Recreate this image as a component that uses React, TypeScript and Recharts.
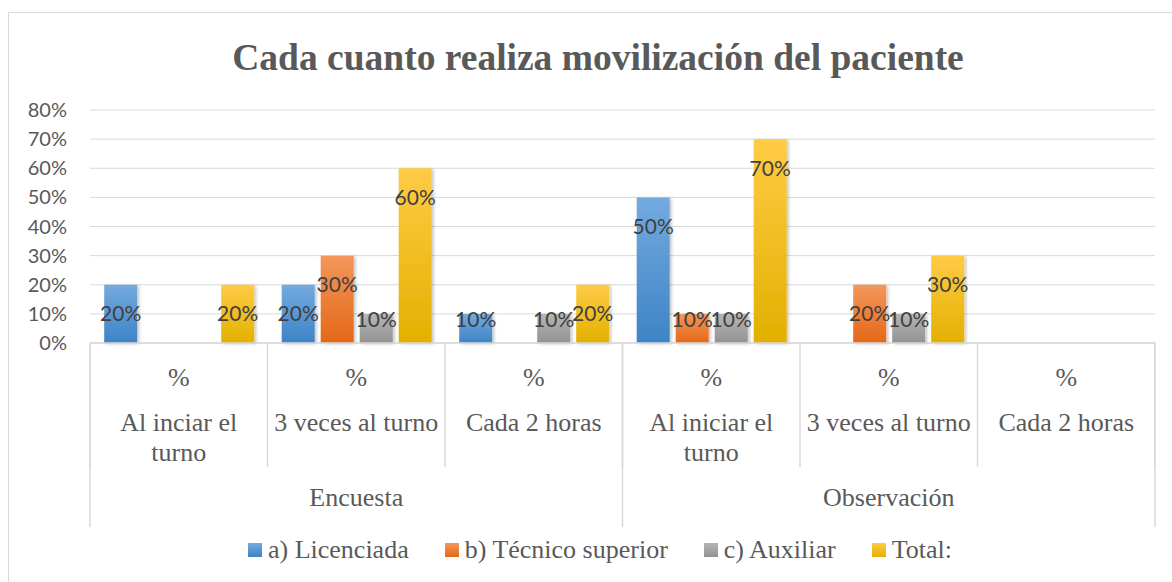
import { BarChart, Bar, XAxis, YAxis, CartesianGrid, Legend, LabelList } from "recharts";

// ── Data ────────────────────────────────────────────────────────────

const groups = ["Encuesta", "Encuesta", "Encuesta", "Observación", "Observación", "Observación"];
const unitRow = ["%", "%", "%", "%", "%", "%"];
const frequencies = [
  "Al inciar el turno",
  "3 veces al turno",
  "Cada 2 horas",
  "Al iniciar el turno",
  "3 veces al turno",
  "Cada 2 horas",
];
const licenciada = [0.2, 0.2, 0.1, 0.5, null, null];
const tecnico = [null, 0.3, null, 0.1, 0.2, null];
const auxiliar = [null, 0.1, 0.1, 0.1, 0.1, null];
const total = [0.2, 0.6, 0.2, 0.7, 0.3, null];
const yTicks = [0, 0.1, 0.2, 0.3, 0.4, 0.5, 0.6, 0.7, 0.8];

const rows = frequencies.map((f, i) => ({
  id: `c${i}`,
  group: groups[i],
  freq: f,
  licenciada: licenciada[i],
  tecnico: tecnico[i],
  auxiliar: auxiliar[i],
  total: total[i],
}));

// ── Styles ──────────────────────────────────────────────────────────

const SERIES = [
  { key: "licenciada", name: "a) Licenciada", top: "#74aadf", bottom: "#3d84c6" },
  { key: "tecnico", name: "b) Técnico superior", top: "#f4965c", bottom: "#e46816" },
  { key: "auxiliar", name: "c) Auxiliar", top: "#b5b5b5", bottom: "#929292" },
  { key: "total", name: "Total:", top: "#ffcb45", bottom: "#e3b000" },
];

const GRID = "#d9d9d9";
const TEXT = "#595959";
const SERIF = "Liberation Serif";
const SANS = "Lato";

const SUB_AXIS_H = 124;
const GROUP_AXIS_H = 60;

function wrap(label: string, max = 16) {
  const lines: string[] = [];
  let cur = "";
  label.split(" ").forEach((w) => {
    const next = cur ? `${cur} ${w}` : w;
    if (next.length > max && cur) {
      lines.push(cur);
      cur = w;
    } else cur = next;
  });
  if (cur) lines.push(cur);
  return lines;
}

function FrequencyTick(props: any) {
  const { x, y, payload, index } = props;
  const half = payload?.offset ?? 88;
  const lines = wrap(frequencies[index]);
  return (
    <g>
      <line x1={x - half} x2={x - half} y1={y} y2={y + SUB_AXIS_H} stroke={GRID} strokeWidth={1.5} />
      {index === frequencies.length - 1 && (
        <line x1={x + half} x2={x + half} y1={y} y2={y + SUB_AXIS_H} stroke={GRID} strokeWidth={1.5} />
      )}
      <text x={x} y={y + 34} textAnchor="middle" dominantBaseline="central" fill={TEXT} fontFamily={SERIF} fontSize={26}>
        {unitRow[index]}
      </text>
      {lines.map((l, k) => (
        <text
          key={k}
          x={x}
          y={y + 79 + k * 30}
          textAnchor="middle"
          dominantBaseline="central"
          fill={TEXT}
          fontFamily={SERIF}
          fontSize={26}
        >
          {l}
        </text>
      ))}
    </g>
  );
}

function GroupTick(props: any) {
  const { x, y, payload, index, visibleTicksCount } = props;
  const half = payload?.offset ?? 266;
  const isLast = index === (visibleTicksCount ?? 2) - 1;
  return (
    <g>
      <line x1={x - half} x2={x - half} y1={y - SUB_AXIS_H} y2={y + GROUP_AXIS_H} stroke={GRID} strokeWidth={1.5} />
      {isLast && (
        <line x1={x + half} x2={x + half} y1={y - SUB_AXIS_H} y2={y + GROUP_AXIS_H} stroke={GRID} strokeWidth={1.5} />
      )}
      <text x={x} y={y + 30} textAnchor="middle" dominantBaseline="central" fill={TEXT} fontFamily={SERIF} fontSize={26}>
        {payload.value}
      </text>
    </g>
  );
}

function BarLabel(props: any) {
  const { x, y, width, height, value } = props;
  if (value == null || value === 0) return null;
  // Excel puts the label a little below the bar top, but keeps it above the base on short bars
  const cy = Math.min(y + 28, y + height - 25);
  return (
    <text
      x={x + width / 2}
      y={cy}
      textAnchor="middle"
      dominantBaseline="central"
      fill="#404040"
      fontFamily={SANS}
      fontSize={21}
    >
      {`${Math.round(value * 100)}%`}
    </text>
  );
}

function LegendContent() {
  return (
    <div
      style={{
        display: "flex",
        justifyContent: "center",
        alignItems: "center",
        height: 30,
        gap: 36,
        fontFamily: SERIF,
        fontSize: 26,
        color: TEXT,
        whiteSpace: "nowrap",
      }}
    >
      {SERIES.map((s) => (
        <span key={s.key} style={{ display: "flex", alignItems: "center" }}>
          <span
            style={{
              display: "inline-block",
              width: 14,
              height: 14,
              marginRight: 6,
              background: `linear-gradient(${s.top}, ${s.bottom})`,
            }}
          />
          {s.name}
        </span>
      ))}
    </div>
  );
}

export default function App() {
  return (
    <div style={{ position: "absolute", left: 0, top: 0, width: 1172, height: 582, overflow: "hidden", background: "#fff" }}>
      {/* chart frame, only top and left edges fall inside the picture */}
      <div
        style={{
          position: "absolute",
          left: 8,
          top: 12,
          width: 1200,
          height: 620,
          border: `1.5px solid ${GRID}`,
        }}
      />
      <div
        style={{
          position: "absolute",
          left: 0,
          top: 34,
          width: 1196,
          textAlign: "center",
          fontFamily: SERIF,
          fontWeight: "bold",
          fontSize: 37.5,
          lineHeight: "48px",
          color: TEXT,
        }}
      >
        Cada cuanto realiza movilización del paciente
      </div>
      <div style={{ position: "absolute", left: 0, top: 0 }}>
        <BarChart
          width={1172}
          height={582}
          data={rows}
          margin={{ top: 110, right: 17, left: 0, bottom: 25 }}
          barCategoryGap="8%"
          barGap={6}
        >
          <defs>
            {SERIES.map((s) => (
              <linearGradient key={s.key} id={`grad-${s.key}`} x1="0" y1="0" x2="0" y2="1">
                <stop offset="0%" stopColor={s.top} />
                <stop offset="100%" stopColor={s.bottom} />
              </linearGradient>
            ))}
            <filter id="barShadow" x="-20%" y="-10%" width="150%" height="130%">
              <feDropShadow dx="2" dy="1" stdDeviation="1.5" floodColor="#000" floodOpacity="0.22" />
            </filter>
          </defs>
          <CartesianGrid vertical={false} stroke={GRID} strokeWidth={1} />
          <XAxis
            dataKey="id"
            height={SUB_AXIS_H}
            interval={0}
            tickLine={false}
            tickSize={0}
            tickMargin={0}
            axisLine={{ stroke: GRID, strokeWidth: 1.5 }}
            tick={<FrequencyTick />}
          />
          <XAxis
            xAxisId="group"
            dataKey="group"
            allowDuplicatedCategory={false}
            height={GROUP_AXIS_H}
            interval={0}
            tickLine={false}
            tickSize={0}
            tickMargin={0}
            axisLine={false}
            tick={<GroupTick />}
          />
          <YAxis
            domain={[0, 0.8]}
            ticks={yTicks}
            width={90}
            axisLine={false}
            tickLine={false}
            tickSize={0}
            tickMargin={23}
            tickFormatter={(v: number) => `${Math.round(v * 100)}%`}
            tick={{ fill: TEXT, fontSize: 20, fontFamily: SANS }}
          />
          <Legend verticalAlign="bottom" content={<LegendContent />} wrapperStyle={{ left: 0, width: 1200, bottom: 17 }} />
          {SERIES.map((s) => (
            <Bar
              key={s.key}
              dataKey={s.key}
              name={s.name}
              fill={`url(#grad-${s.key})`}
              filter="url(#barShadow)"
              isAnimationActive={false}
            >
              <LabelList dataKey={s.key} content={<BarLabel />} />
            </Bar>
          ))}
        </BarChart>
      </div>
    </div>
  );
}
